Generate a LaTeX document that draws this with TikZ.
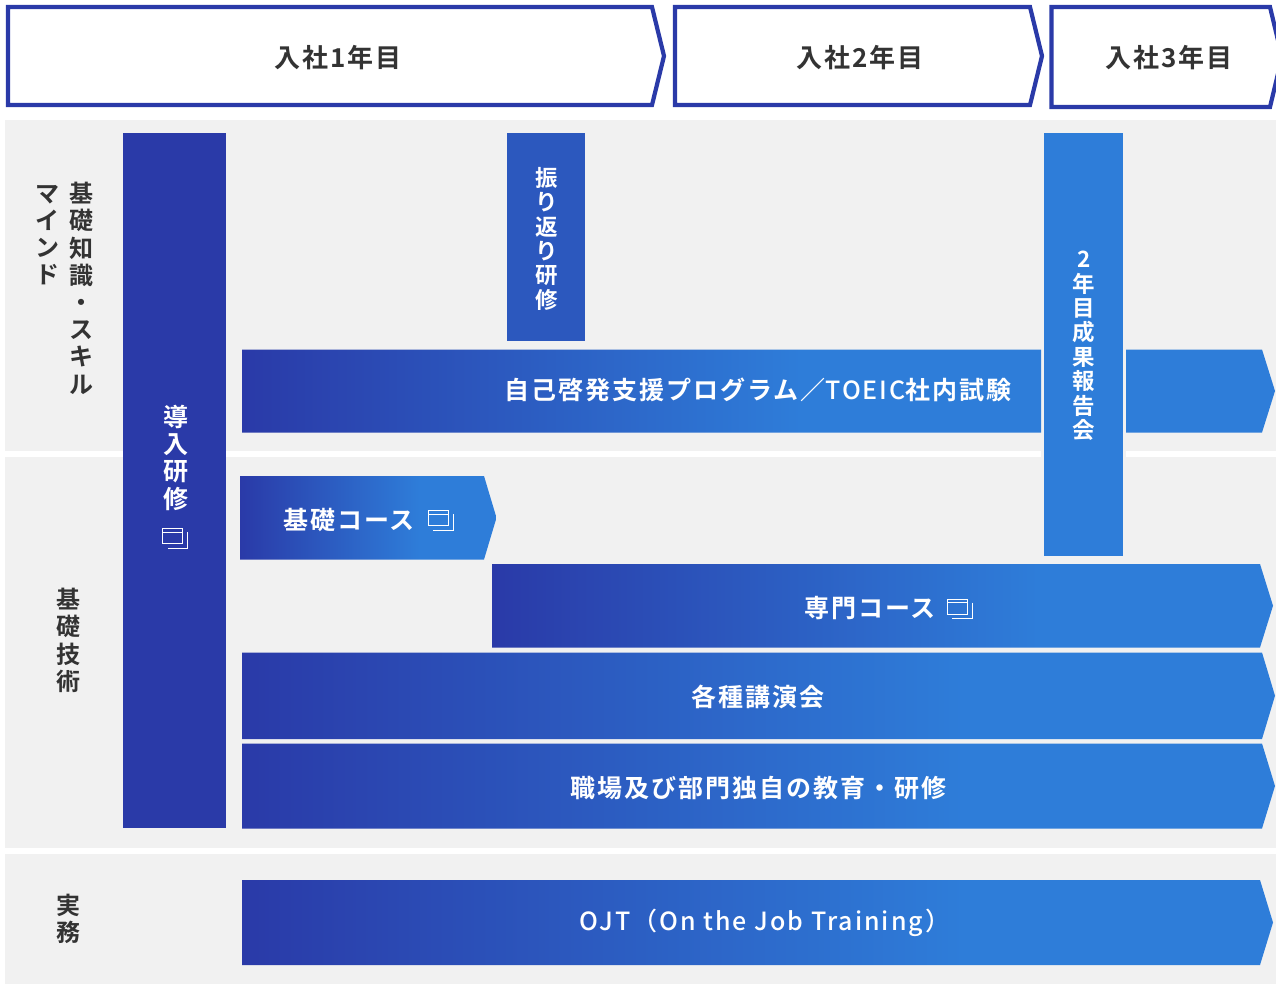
\documentclass[tikz,border=0pt]{standalone}
\usepackage{fontspec}
\setmainfont{Noto Sans CJK JP}
\newfontfamily\jpfont[LetterSpace=8]{Noto Sans CJK JP Bold}
\newfontfamily\jpmfont[LetterSpace=8]{Noto Sans CJK JP Medium}
\newfontfamily\jpvfont{Noto Sans CJK JP Bold}
\definecolor{barblue}{HTML}{2A3AA8}
\definecolor{barsky}{HTML}{2E7DD9}
\definecolor{panelgray}{HTML}{F1F1F1}
\definecolor{labelgray}{HTML}{333333}
\pgfdeclarehorizontalshading{barfade}{100bp}{color(0bp)=(barblue); color(25bp)=(barblue); color(60bp)=(barsky); color(100bp)=(barsky)}
\tikzset{
  yearlabel/.style={text=labelgray,font=\jpfont\fontsize{26}{30}\selectfont},
  sidelabel/.style={text=labelgray,anchor=north,align=center,inner sep=0pt,font=\jpvfont\fontsize{24}{27.2}\selectfont},
  barlabel/.style={text=white,font=\jpfont\fontsize{25}{30}\selectfont},
  vertlabel/.style={text=white,anchor=north,align=center,inner sep=0pt,font=\jpvfont\fontsize{22.5}{24.4}\selectfont},
  yearbox/.style={draw=barblue,line width=4.2pt,fill=white,miter limit=10},
  courseicon/.pic={
    \draw[white,line width=1pt] (0,0) rectangle (20,15);
    \draw[white,line width=1pt] (0,3.5) -- (20,3.5);
    \draw[white,line width=1pt] (25,3.5) -- (25,19.5) -- (5,19.5);
  }
}
\newcommand{\arrowbar}[5]{% left, top, shoulder, tip, bottom
  \shade[shading=barfade] (#1,#2) -- (#3,#2) -- (#4,{(#2+#5)/2}) -- (#3,#5) -- (#1,#5) -- cycle;
}
\begin{document}
\begin{tikzpicture}[x=1pt,y=-1pt]
  \useasboundingbox (0,0) rectangle (1276,984);

  % panels
  \fill[panelgray] (5,120) rectangle (1276,450.5);
  \fill[panelgray] (5,456.5) rectangle (1276,848);
  \fill[panelgray] (5,854) rectangle (1276,984);
  \fill[panelgray] (1041,450) rectangle (1126,457);

  % years
  \draw[yearbox] (8,7) -- (652,7) -- (664,56) -- (652,105) -- (8,105) -- cycle;
  \draw[yearbox] (675,7) -- (1030,7) -- (1042,56) -- (1030,105) -- (675,105) -- cycle;
  \draw[yearbox] (1051.5,7) -- (1270,7) -- (1282,57) -- (1270,107) -- (1051.5,107) -- cycle;
  \node[yearlabel] (year1) at (338,58) {入社1年目};
  \node[yearlabel] (year2) at (860,58) {入社2年目};
  \node[yearlabel] (year3) at (1169,58) {入社3年目};

  % side labels
  \node[sidelabel] (skill) at (81,182) {基\\礎\\知\\識\\・\\ス\\キ\\ル};
  \node[sidelabel] (mind) at (47,185) {マ\\イ\\ン\\ド};
  \node[sidelabel] (tech) at (68,588) {基\\礎\\技\\術};
  \node[sidelabel] (work) at (68,894) {実\\務};

  % bars
  \fill[barblue] (123,133) rectangle (226,828);
  \node[vertlabel,font=\jpvfont\fontsize{25}{27.2}\selectfont] (intro) at (175.5,405) {導\\入\\研\\修};
  \pic at (162.5,528.5) {courseicon};

  \fill[barblue!55!barsky] (507,133) rectangle (584.5,341);
  \node[vertlabel] (review) at (547,167) {振\\り\\返\\り\\研\\修};

  \arrowbar{242}{349.5}{1041}{1041}{432.5}
  \node[barlabel] (selfdev) at (758,390) {自己啓発支援プログラム／{\jpmfont TOEIC}社内試験};
  \fill[barsky] (1126,349.5) -- (1262,349.5) -- (1275,391) -- (1262,432.5) -- (1126,432.5) -- cycle;

  \fill[barsky] (1044,133) rectangle (1122.5,556);
  \node[vertlabel] (report) at (1084,251) {2\\年\\目\\成\\果\\報\\告\\会};

  \arrowbar{240}{476}{484}{496.5}{559.5}
  \node[barlabel] (basic) at (349,520) {基礎コース};
  \pic at (428,510.5) {courseicon};

  \arrowbar{492}{564}{1260}{1273}{647.5}
  \node[barlabel] (special) at (870,608) {専門コース};
  \pic at (947,599) {courseicon};

  \arrowbar{242}{652.5}{1262}{1275}{739}
  \node[barlabel] (lecture) at (758,697) {各種講演会};

  \arrowbar{242}{743.5}{1262}{1275}{828.5}
  \node[barlabel] (dept) at (758,788) {職場及び部門独自の教育・研修};

  \arrowbar{242}{880}{1260}{1273}{965}
  \node[barlabel,font=\jpmfont\fontsize{25}{30}\selectfont] (ojt) at (765,923) {OJT（On the Job Training）};
\end{tikzpicture}
\end{document}
